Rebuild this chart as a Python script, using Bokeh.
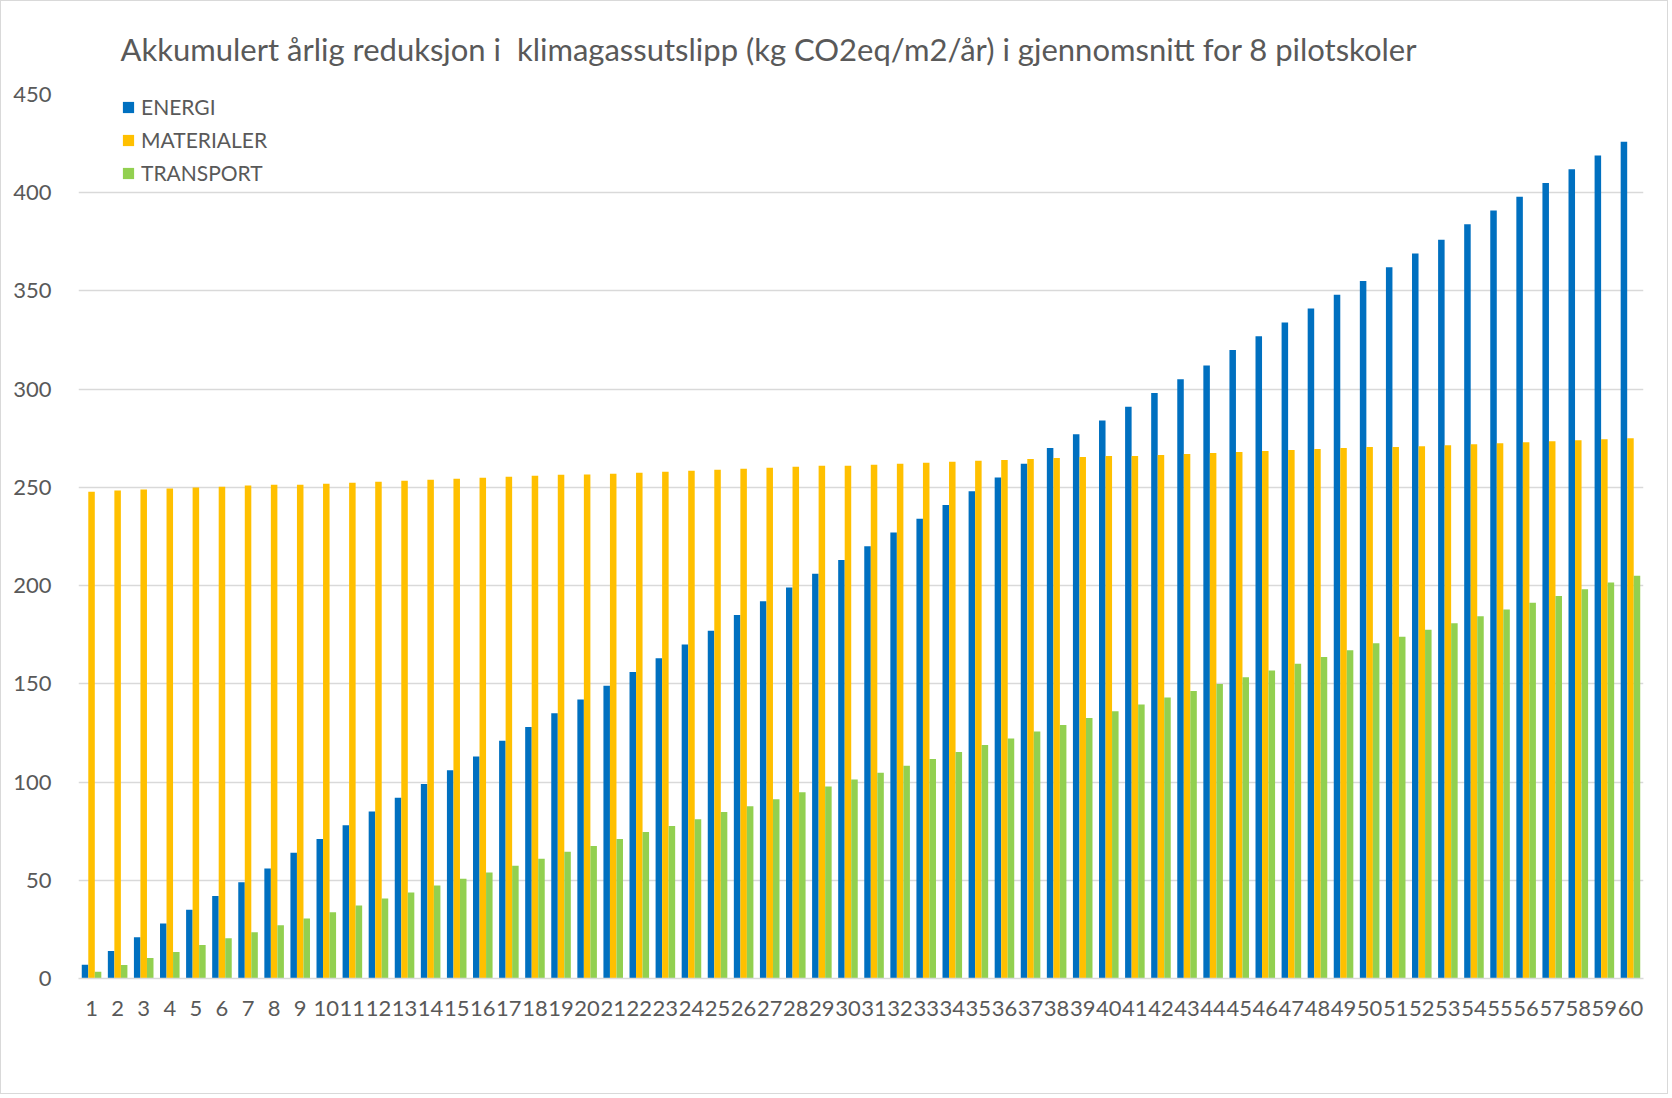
from bokeh.plotting import figure
from bokeh.models import FactorRange, Range1d, FixedTicker, Legend, LegendItem, ColumnDataSource
from bokeh.transform import dodge
from bokeh.embed import file_html
from bokeh.resources import INLINE

years = [str(i) for i in range(1, 61)]

energi = [7, 14, 21, 28, 35, 42, 49, 56, 64, 71,
          78, 85, 92, 99, 106, 113, 121, 128, 135, 142,
          149, 156, 163, 170, 177, 185, 192, 199, 206, 213,
          220, 227, 234, 241, 248, 255, 262, 270, 277, 284,
          291, 298, 305, 312, 320, 327, 334, 341, 348, 355,
          362, 369, 376, 384, 391, 398, 405, 412, 419, 426]

materialer = [247.8, 248.4, 248.9, 249.4, 249.9, 250.3, 250.9, 251.4, 251.4, 251.9,
              252.4, 252.9, 253.4, 253.9, 254.4, 254.9, 255.4, 255.9, 256.4, 256.5,
              257.0, 257.5, 258.0, 258.5, 259.0, 259.5, 260.0, 260.5, 261.0, 261.0,
              261.5, 262.0, 262.5, 263.0, 263.5, 264.0, 264.5, 265.0, 265.5, 266.0,
              266.0, 266.5, 267.0, 267.5, 268.0, 268.5, 269.0, 269.5, 270.0, 270.5,
              270.5, 271.0, 271.5, 272.0, 272.5, 273.0, 273.5, 274.0, 274.5, 275.0]

transport = [3.4, 6.9, 10.4, 13.5, 17.0, 20.5, 23.6, 27.1, 30.6, 33.7,
             37.2, 40.7, 43.8, 47.3, 50.8, 53.9, 57.4, 60.9, 64.5, 67.5,
             71.0, 74.6, 77.6, 81.1, 84.7, 87.7, 91.2, 94.8, 97.8, 101.3,
             104.8, 108.3, 111.8, 115.3, 118.8, 122.2, 125.7, 129.1, 132.6, 136.0,
             139.5, 143.0, 146.4, 149.9, 153.3, 156.8, 160.2, 163.7, 167.1, 170.6,
             174.0, 177.5, 180.9, 184.4, 187.8, 191.3, 194.7, 198.2, 201.6, 205.0]

series_names = ["ENERGI", "MATERIALER", "TRANSPORT"]
colors = ["#0070C0", "#FFC000", "#92D050"]
title_text = "Akkumulert årlig reduksjon i\u00a0 klimagassutslipp (kg CO2eq/m2/år) i gjennomsnitt for 8 pilotskoler"
y_ticks = [0, 50, 100, 150, 200, 250, 300, 350, 400, 450]

FONT = "Lato"
TXT = "#595959"

src = ColumnDataSource(dict(year=years, e=energi, m=materialer, t=transport))

p = figure(x_range=FactorRange(*years, range_padding=0), y_range=Range1d(0, 450),
           width=1668, height=1094, output_backend="svg", toolbar_location=None,
           min_border_left=77, min_border_right=26, min_border_top=93, min_border_bottom=117)

p.title.text = title_text
p.title.align = "left"
p.title.vertical_align = "middle"
p.title.offset = 42
p.title.text_font = FONT
p.title.text_font_size = "31px"
p.title.text_font_style = "normal"
p.title.text_color = TXT
p.title.standoff = 52

w = 0.25
r1 = p.vbar(x=dodge("year", -0.25, range=p.x_range), top="e", width=w, source=src, color=colors[0], line_width=0)
r2 = p.vbar(x=dodge("year", 0.0, range=p.x_range), top="m", width=w, source=src, color=colors[1], line_width=0)
r3 = p.vbar(x=dodge("year", 0.25, range=p.x_range), top="t", width=w, source=src, color=colors[2], line_width=0)

p.yaxis.ticker = FixedTicker(ticks=y_ticks)
p.ygrid.ticker = FixedTicker(ticks=y_ticks)
p.ygrid.grid_line_color = "#D9D9D9"
p.ygrid.grid_line_width = 1.5
p.xgrid.grid_line_color = None
p.outline_line_color = None

p.yaxis.axis_line_color = None
p.yaxis.major_tick_line_color = None
p.yaxis.minor_tick_line_color = None
p.yaxis.major_label_text_font = FONT
p.yaxis.major_label_text_font_size = "22px"
p.yaxis.major_label_text_color = TXT
p.yaxis.major_label_standoff = 21

p.xaxis.axis_line_color = "#D9D9D9"
p.xaxis.axis_line_width = 1.5
p.xaxis.major_tick_line_color = None
p.xaxis.minor_tick_line_color = None
p.xaxis.major_label_text_font = FONT
p.xaxis.major_label_text_font_size = "22px"
p.xaxis.major_label_text_color = TXT
p.xaxis.major_label_standoff = 16
p.xaxis.group_text_font_size = "0px"

legend = Legend(items=[LegendItem(label=series_names[0], renderers=[r1]),
                       LegendItem(label=series_names[1], renderers=[r2]),
                       LegendItem(label=series_names[2], renderers=[r3])],
                location=(43, 793), orientation="vertical",
                glyph_width=14, glyph_height=14, label_height=24, spacing=8,
                padding=0, margin=0, label_standoff=6,
                label_text_font=FONT, label_text_font_size="21px", label_text_color=TXT,
                border_line_color=None, background_fill_alpha=0)
p.add_layout(legend, "center")

p.styles = {"border": "1px solid #D9D9D9"}

open("out.html", "w").write(file_html(p, INLINE))
